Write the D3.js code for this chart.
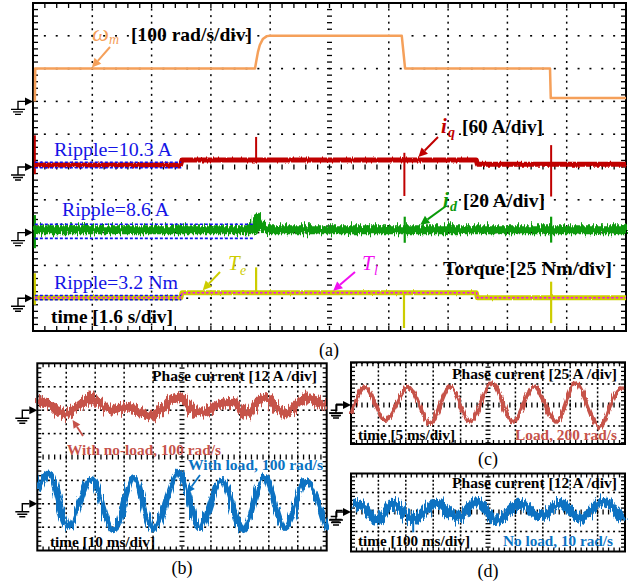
<!DOCTYPE html>
<html>
<head>
<meta charset="utf-8">
<script src="https://cdn.jsdelivr.net/npm/d3@7"></script>
<style>
  body { margin: 0; background: #fff; }
  svg { display: block; }
  text { font-family: "Liberation Serif", "Times New Roman", serif; }
</style>
</head>
<body>
<svg id="fig" width="633" height="584"></svg>
<script>
// ---------------- (a) long run: speed, iq, id, torque vs time (s) ----------------
const omegaM  = [[0.05,0],[0.06,100],[5.99,100],[6.02,120],[6.07,151],[6.12,172],[6.2,190],[6.31,199],[6.39,200],[9.95,200],[10.04,100],[13.95,100],[13.97,10],[16,10]];
const iqLevel = [[0.05,3.7],[3.98,3.7],[4.02,12.8],[11.96,12.8],[11.99,5],[16,5]];
const iqSpikes = [[0.05,58,-13],[6.02,55,8],[10.02,26,-53],[13.98,40,-54]];
const idLevel = [[0.05,1.8],[5.99,1.8],[6.0,9.5],[6.12,4],[6.3,1.8],[16,1.8]];
const idSpikes = [[0.05,10.7,-9.5],[6.0,10.7,0],[10.03,9.7,-6.2],[13.98,9.7,-6.1]];
const teLevel = [[0.05,0.4],[3.99,0.4],[4.02,4.2],[11.96,4.2],[11.99,0.4],[16,0.4]];
const teSpikes = [[0.05,19,-5],[6.02,23.5,3],[10.01,4,-22.7],[13.98,12.6,-19]];
const tlLevel = [[0.05,0.4],[4.0,0.4],[4.02,4.2],[11.97,4.2],[11.99,0.4],[16,0.4]];
// ripple bands: [t start, t end, low, high]
const iqRipple = [0.05, 4.0, -1.5, 8.8];
const idRipple = [0.05, 5.94, -3.55, 5.05];
const teRipple = [0.05, 4.0, -1.18, 2.02];
const rippleLabels = ["Ripple=10.3 A", "Ripple=8.6 A", "Ripple=3.2 Nm"];

// ---------------- (b) phase current at 100 rad/s, time in ms, current in A ----------------
const bNoLoad = [[0.3,5.2],[4.4,2.6],[9.2,-2.0],[14.8,2.6],[18.6,6.2],[25.1,0],[30.3,1.6],[40.0,-2.5],[48.3,6.7],[56.2,-1.5],[62.0,2.6],[67.6,4.1],[72.5,-2.5],[78.3,6.7],[85.2,-1.5],[93.5,6.2],[99.8,1.1]];
const bLoad = [[0.1,7.0],[4.0,15.7],[10.7,-11.8],[18.6,12.7],[26.3,-13.5],[33.4,13.2],[40.1,-12.9],[49.0,16.3],[55.9,-12.4],[63.8,12.2],[71.1,-13.5],[78.3,13.7],[85.6,-12.4],[92.8,11.3],[99.8,-13.5]];

// ---------------- (c) loaded, 200 rad/s ----------------
const cLoad = [[0.1,-9.9],[2.6,21.8],[6.2,-17.9],[10.5,21.8],[14.4,-21.8],[18.1,21.8],[21.7,-19.9],[25.7,25.8],[29.6,-19.9],[33.3,21.8],[37.5,-19.9],[40.9,25.8],[45.4,-25.8],[48.5,15.8],[49.7,21.8]];

// ---------------- (d) no load, 10 rad/s ----------------
const dNoLoad = [[8,5.4],[40,3.7],[94,-4.9],[154,5.4],[227,-4.9],[313,5.4],[386,-3.9],[459,6.3],[532,-4.9],[617,5.4],[690,-2.9],[763,5.4],[836,-3.9],[921,6.3],[994,-4.9]];
const dSpikes = [[227,-1,-12.5]];

// scope scale settings (per division)
const aTimeDiv = 1.6, bTimeDiv = 10, cTimeDiv = 5, dTimeDiv = 100;
const omegaDiv = 100, iqDiv = 60, idDiv = 20, torqueDiv = 25, bDiv = 12, cDiv = 25, dDiv = 12;

// ------------------------------------------------------------------
const W = 633, H = 584;
const svg = d3.select("#fig");
svg.append("rect").attr("width", W).attr("height", H).attr("fill", "#fff");
const defs = svg.append("defs");

function noiseFilter(id, fx, fy, scale, seed) {
  const f = defs.append("filter").attr("id", id).attr("filterUnits", "userSpaceOnUse")
    .attr("x", 0).attr("y", 0).attr("width", W).attr("height", H);
  f.append("feTurbulence").attr("type", "fractalNoise").attr("baseFrequency", fx + " " + fy)
    .attr("numOctaves", 2).attr("seed", seed).attr("result", "n");
  f.append("feDisplacementMap").attr("in", "SourceGraphic").attr("in2", "n").attr("scale", scale)
    .attr("xChannelSelector", "R").attr("yChannelSelector", "G");
}
noiseFilter("nz-iq", 0.8, 0.05, 3, 2);
noiseFilter("nz-id", 0.7, 0.03, 12, 5);
noiseFilter("nz-te", 0.8, 0.05, 2, 7);
noiseFilter("nz-b1", 0.6, 0.03, 13, 11);
noiseFilter("nz-b2", 0.6, 0.03, 9, 13);
noiseFilter("nz-c", 0.6, 0.05, 6, 17);
noiseFilter("nz-d", 0.6, 0.03, 13, 19);

// graticule: frame, ticks, dotted divisions
function graticule(p) {
  const g = svg.append("g");
  const mx = p.dx / 5, my = p.dy / 5;
  const xs = [], ys = [];
  for (let k = -60; k <= 60; k++) {
    const x = p.cx + k * mx; if (x > p.x0 + 0.5 && x < p.x1 - 0.5) xs.push({x, k});
    const y = p.cy + k * my; if (y > p.y0 + 0.5 && y < p.y1 - 0.5) ys.push({y, k});
  }
  xs.filter(d => d.k % 5 === 0 && d.k !== 0).forEach(d => {
    ys.forEach(e => g.append("rect").attr("x", d.x - 0.75).attr("y", e.y - 1).attr("width", 1.5).attr("height", 2).attr("fill", "#000"));
  });
  ys.filter(d => d.k % 5 === 0 && d.k !== 0).forEach(e => {
    xs.forEach(d => g.append("rect").attr("x", d.x - 1).attr("y", e.y - 0.8).attr("width", 2).attr("height", 1.6).attr("fill", "#000"));
  });
  ys.forEach(e => g.append("line").attr("x1", p.cx - 2.5).attr("x2", p.cx + 2.5).attr("y1", e.y).attr("y2", e.y).attr("stroke", "#000").attr("stroke-width", 1.3));
  xs.forEach(d => g.append("line").attr("x1", d.x).attr("x2", d.x).attr("y1", p.cy - 2.5).attr("y2", p.cy + 2.5).attr("stroke", "#000").attr("stroke-width", 1.3));
  const tl = p.tick || 5;
  ys.forEach(e => {
    g.append("line").attr("x1", p.x0).attr("x2", p.x0 + tl).attr("y1", e.y).attr("y2", e.y).attr("stroke", "#000").attr("stroke-width", 1.3);
    g.append("line").attr("x1", p.x1 - tl).attr("x2", p.x1).attr("y1", e.y).attr("y2", e.y).attr("stroke", "#000").attr("stroke-width", 1.3);
  });
  xs.forEach(d => {
    g.append("line").attr("x1", d.x).attr("x2", d.x).attr("y1", p.y0).attr("y2", p.y0 + tl).attr("stroke", "#000").attr("stroke-width", 1.3);
    g.append("line").attr("x1", d.x).attr("x2", d.x).attr("y1", p.y1 - tl).attr("y2", p.y1).attr("stroke", "#000").attr("stroke-width", 1.3);
  });
  g.append("rect").attr("x", p.x0).attr("y", p.y0).attr("width", p.x1 - p.x0).attr("height", p.y1 - p.y0)
    .attr("fill", "none").attr("stroke", "#000").attr("stroke-width", 2);
  return g;
}

// ground reference marker (arrow + earth symbol) on the left of a frame
function groundMark(x0, y, withArrow = true) {
  const g = svg.append("g").attr("stroke", "#000").attr("stroke-width", 1.4).attr("fill", "none");
  if (withArrow) g.append("path").attr("d", `M${x0},${y}L${x0 - 8},${y - 4}L${x0 - 8},${y + 4}Z`).attr("fill", "#000").attr("stroke", "none");
  g.append("path").attr("d", `M${x0 - 8},${y}H${x0 - 15}V${y + 8}`);
  g.append("path").attr("d", `M${x0 - 22},${y + 8}H${x0 - 8}M${x0 - 20},${y + 10.5}H${x0 - 10}M${x0 - 18},${y + 13}H${x0 - 12}`);
}
function groundMarkRight(x1, y) {
  const g = svg.append("g").attr("stroke", "#000").attr("stroke-width", 1.4).attr("fill", "none");
  g.append("path").attr("d", `M${x1 + 4},${y}H${x1 + 10}V${y - 6}H${x1 + 16}`);
  g.append("path").attr("d", `M${x1 + 3},${y + 3}H${x1 + 15}M${x1 + 5},${y + 5.5}H${x1 + 13}`);
}

function arrow(x1, y1, x2, y2, color, w = 2, hl = 9, hw = 4.5) {
  const a = Math.atan2(y2 - y1, x2 - x1);
  const bx = x2 - hl * Math.cos(a), by = y2 - hl * Math.sin(a);
  svg.append("line").attr("x1", x1).attr("y1", y1).attr("x2", bx).attr("y2", by).attr("stroke", color).attr("stroke-width", w);
  const px = -Math.sin(a) * hw, py = Math.cos(a) * hw;
  svg.append("path").attr("d", `M${x2},${y2}L${bx + px},${by + py}L${bx - px},${by - py}Z`).attr("fill", color);
}

// single-run text; o: {fill, bold, italic, len, anchor}
function txt(x, y, s, size, o = {}) {
  const t = svg.append("text").attr("x", x).attr("y", y).attr("font-size", size).text(s)
    .attr("fill", o.fill || "#000").attr("text-anchor", o.anchor || "start");
  if (o.bold) t.attr("font-weight", "bold");
  if (o.italic) t.attr("font-style", "italic");
  if (o.len) t.attr("textLength", o.len).attr("lengthAdjust", "spacingAndGlyphs");
  return t;
}

function chanScale(p, offsetDivs, perDiv) {
  const g0 = p.cy + offsetDivs * p.dy;
  return d3.scaleLinear().domain([0, perDiv]).range([g0, g0 - p.dy]);
}

function trace(x, y, data, color, width, filter, curve = d3.curveLinear) {
  const path = svg.append("path").datum(data)
    .attr("d", d3.line().x(d => x(d[0])).y(d => y(d[1])).curve(curve))
    .attr("fill", "none").attr("stroke", color).attr("stroke-width", width)
    .attr("stroke-linejoin", "round");
  if (filter) path.attr("filter", `url(#${filter})`);
  return path;
}
function spikes(x, y, data, color, width) {
  svg.append("g").selectAll("line").data(data).join("line")
    .attr("x1", d => x(d[0])).attr("x2", d => x(d[0]))
    .attr("y1", d => y(d[1])).attr("y2", d => y(d[2]))
    .attr("stroke", color).attr("stroke-width", width);
}
function ripple(x, y, r) {
  [r[2], r[3]].forEach(v => svg.append("line")
    .attr("x1", x(r[0])).attr("x2", x(r[1])).attr("y1", y(v)).attr("y2", y(v))
    .attr("stroke", "#1010F0").attr("stroke-width", 1.6).attr("stroke-dasharray", "3,2"));
}

// colours
const cOmega = "#F5A05A", cIq = "#C00000", cId = "#0A9A0A", cTe = "#CDCD00", cTl = "#F010F0", cBlueTxt = "#1414E6";
const cRedB = "#C6524A", cBlueB = "#0A72C2";

// ======================= panel (a) =======================
const pA = {x0: 33, x1: 626, y0: 3, y1: 331, cx: 329.5, cy: 167, dx: 59.3, dy: 32.8};
graticule(pA);
const xA = d3.scaleLinear().domain([0, 10 * aTimeDiv]).range([pA.x0, pA.x1]);
const yOmega = chanScale(pA, -2, omegaDiv);
const yIq = chanScale(pA, 0, iqDiv);
const yId = chanScale(pA, 2, idDiv);
const yTq = chanScale(pA, 4, torqueDiv);
[yOmega, yIq, yId, yTq].forEach(s => groundMark(pA.x0, s(0)));

trace(xA, yOmega, omegaM, cOmega, 2.5);
trace(xA, yIq, iqLevel, cIq, 5, "nz-iq");
spikes(xA, yIq, iqSpikes, cIq, 2);
trace(xA, yId, idLevel, cId, 9, "nz-id");
spikes(xA, yId, idSpikes, cId, 2.2);
trace(xA, yTq, teLevel, cTe, 5, "nz-te");
spikes(xA, yTq, teSpikes, cTe, 2.2);
trace(xA, yTq, tlLevel, cTl, 1.5).attr("stroke-dasharray", "2.5,2");

ripple(xA, yIq, iqRipple);
ripple(xA, yId, idRipple);
ripple(xA, yTq, teRipple);
txt(54, 155.5, rippleLabels[0], 19, {fill: cBlueTxt, len: 118});
txt(62, 215.5, rippleLabels[1], 19, {fill: cBlueTxt, len: 107});
txt(54, 289, rippleLabels[2], 19, {fill: cBlueTxt, len: 124});

txt(92, 41, "ω", 24, {fill: cOmega, italic: true});
txt(109, 44, "m", 14, {fill: cOmega, italic: true});
txt(131, 40.5, "[100 rad/s/div]", 19, {bold: true, len: 121});
arrow(110, 47, xA(1.59), yOmega(100) - 1, cOmega);

txt(441, 133, "i", 21, {fill: cIq, italic: true, bold: true});
txt(448, 137, "q", 14, {fill: cIq, italic: true, bold: true});
txt(462, 133, "[60 A/div]", 19, {bold: true, len: 81});
arrow(438, 137, xA(10.4), yIq(12.8) - 3, cIq);

txt(443, 207, "i", 21, {fill: cId, italic: true, bold: true});
txt(450, 211, "d", 14, {fill: cId, italic: true, bold: true});
txt(463, 207, "[20 A/div]", 19, {bold: true, len: 82});
arrow(446, 206, xA(10.45), yId(1.8) - 5, cId);

txt(443, 275, "Torque [25 Nm/div]", 19, {bold: true, len: 169});
txt(228, 270, "T", 21, {fill: cTe, italic: true});
txt(240, 275, "e", 14, {fill: cTe, italic: true});
arrow(220, 272, xA(4.58), yTq(4.2) - 2.5, cTe);
txt(362, 270, "T", 21, {fill: cTl, italic: true});
txt(374, 275, "l", 14, {fill: cTl, italic: true});
arrow(355, 272, xA(8.1), yTq(4.2) - 2, cTl);
txt(51, 323, "time [1.6 s/div]", 19, {bold: true, len: 122});
txt(329, 356, "(a)", 18, {anchor: "middle"});

// ======================= panel (b) =======================
const pB = {x0: 37.3, x1: 326.7, y0: 363.3, y1: 550.5, cx: 182, cy: 457, dx: 28.94, dy: 23.4, tick: 4};
graticule(pB);
const xB = d3.scaleLinear().domain([0, 10 * bTimeDiv]).range([pB.x0, pB.x1]);
const yBr = chanScale(pB, -2, bDiv);
const yBb = chanScale(pB, 2, bDiv);
groundMark(pB.x0, yBr(0));
groundMark(pB.x0, yBb(0));
groundMarkRight(pB.x1, yBr(0));
groundMarkRight(pB.x1, yBb(-6.5));
trace(xB, yBr, bNoLoad, cRedB, 9, "nz-b1", d3.curveMonotoneX);
trace(xB, yBb, bLoad, cBlueB, 6, "nz-b2", d3.curveMonotoneX);
txt(152, 380.5, "Phase current [12 A /div]", 15, {bold: true, len: 165});
txt(67, 455, "With no-load, 100 rad/s", 15, {bold: true, fill: cRedB, len: 154});
arrow(83, 436, xB(12.2), yBr(-5), cRedB, 1.8, 8, 4);
txt(188, 469.5, "With load, 100 rad/s", 15, {bold: true, fill: cBlueB, len: 135});
arrow(200, 475, xB(51.7), yBb(5.5), cBlueB, 1.8, 8, 4);
txt(50, 547, "time [10 ms/div]", 15, {bold: true, len: 105});
txt(182, 574, "(b)", 18, {anchor: "middle"});

// ======================= panel (c) =======================
const pC = {x0: 351, x1: 625, y0: 362.3, y1: 444, cx: 488, cy: 405, dx: 27.4, dy: 21, tick: 4};
graticule(pC);
const xC = d3.scaleLinear().domain([0, 10 * cTimeDiv]).range([pC.x0, pC.x1]);
const yC = chanScale(pC, 0, cDiv);
groundMark(pC.x0, yC(0));
trace(xC, yC, cLoad, cRedB, 4, "nz-c", d3.curveMonotoneX);
txt(452, 378.5, "Phase current [25 A /div]", 15, {bold: true, len: 165});
txt(358, 439.5, "time [5 ms/div]", 15, {bold: true, len: 97});
txt(515, 439.5, "Load, 200 rad/s", 15, {bold: true, fill: cRedB, len: 102});
txt(488, 465, "(c)", 18, {anchor: "middle"});

// ======================= panel (d) =======================
const pD = {x0: 351, x1: 625, y0: 473.5, y1: 551.5, cx: 488, cy: 512, dx: 27.4, dy: 19.5, tick: 4};
graticule(pD);
const xD = d3.scaleLinear().domain([0, 10 * dTimeDiv]).range([pD.x0, pD.x1]);
const yD = chanScale(pD, 0, dDiv);
groundMark(pD.x0, yD(0));
trace(xD, yD, dNoLoad, cBlueB, 9, "nz-d", d3.curveMonotoneX);
spikes(xD, yD, dSpikes, cBlueB, 2);
txt(452, 488, "Phase current [12 A /div]", 15, {bold: true, len: 165});
txt(358, 545.5, "time [100 ms/div]", 15, {bold: true, len: 112});
txt(503, 545.5, "No load, 10 rad/s", 15, {bold: true, fill: cBlueB, len: 110});
txt(488, 577, "(d)", 18, {anchor: "middle"});
</script>
</body>
</html>
